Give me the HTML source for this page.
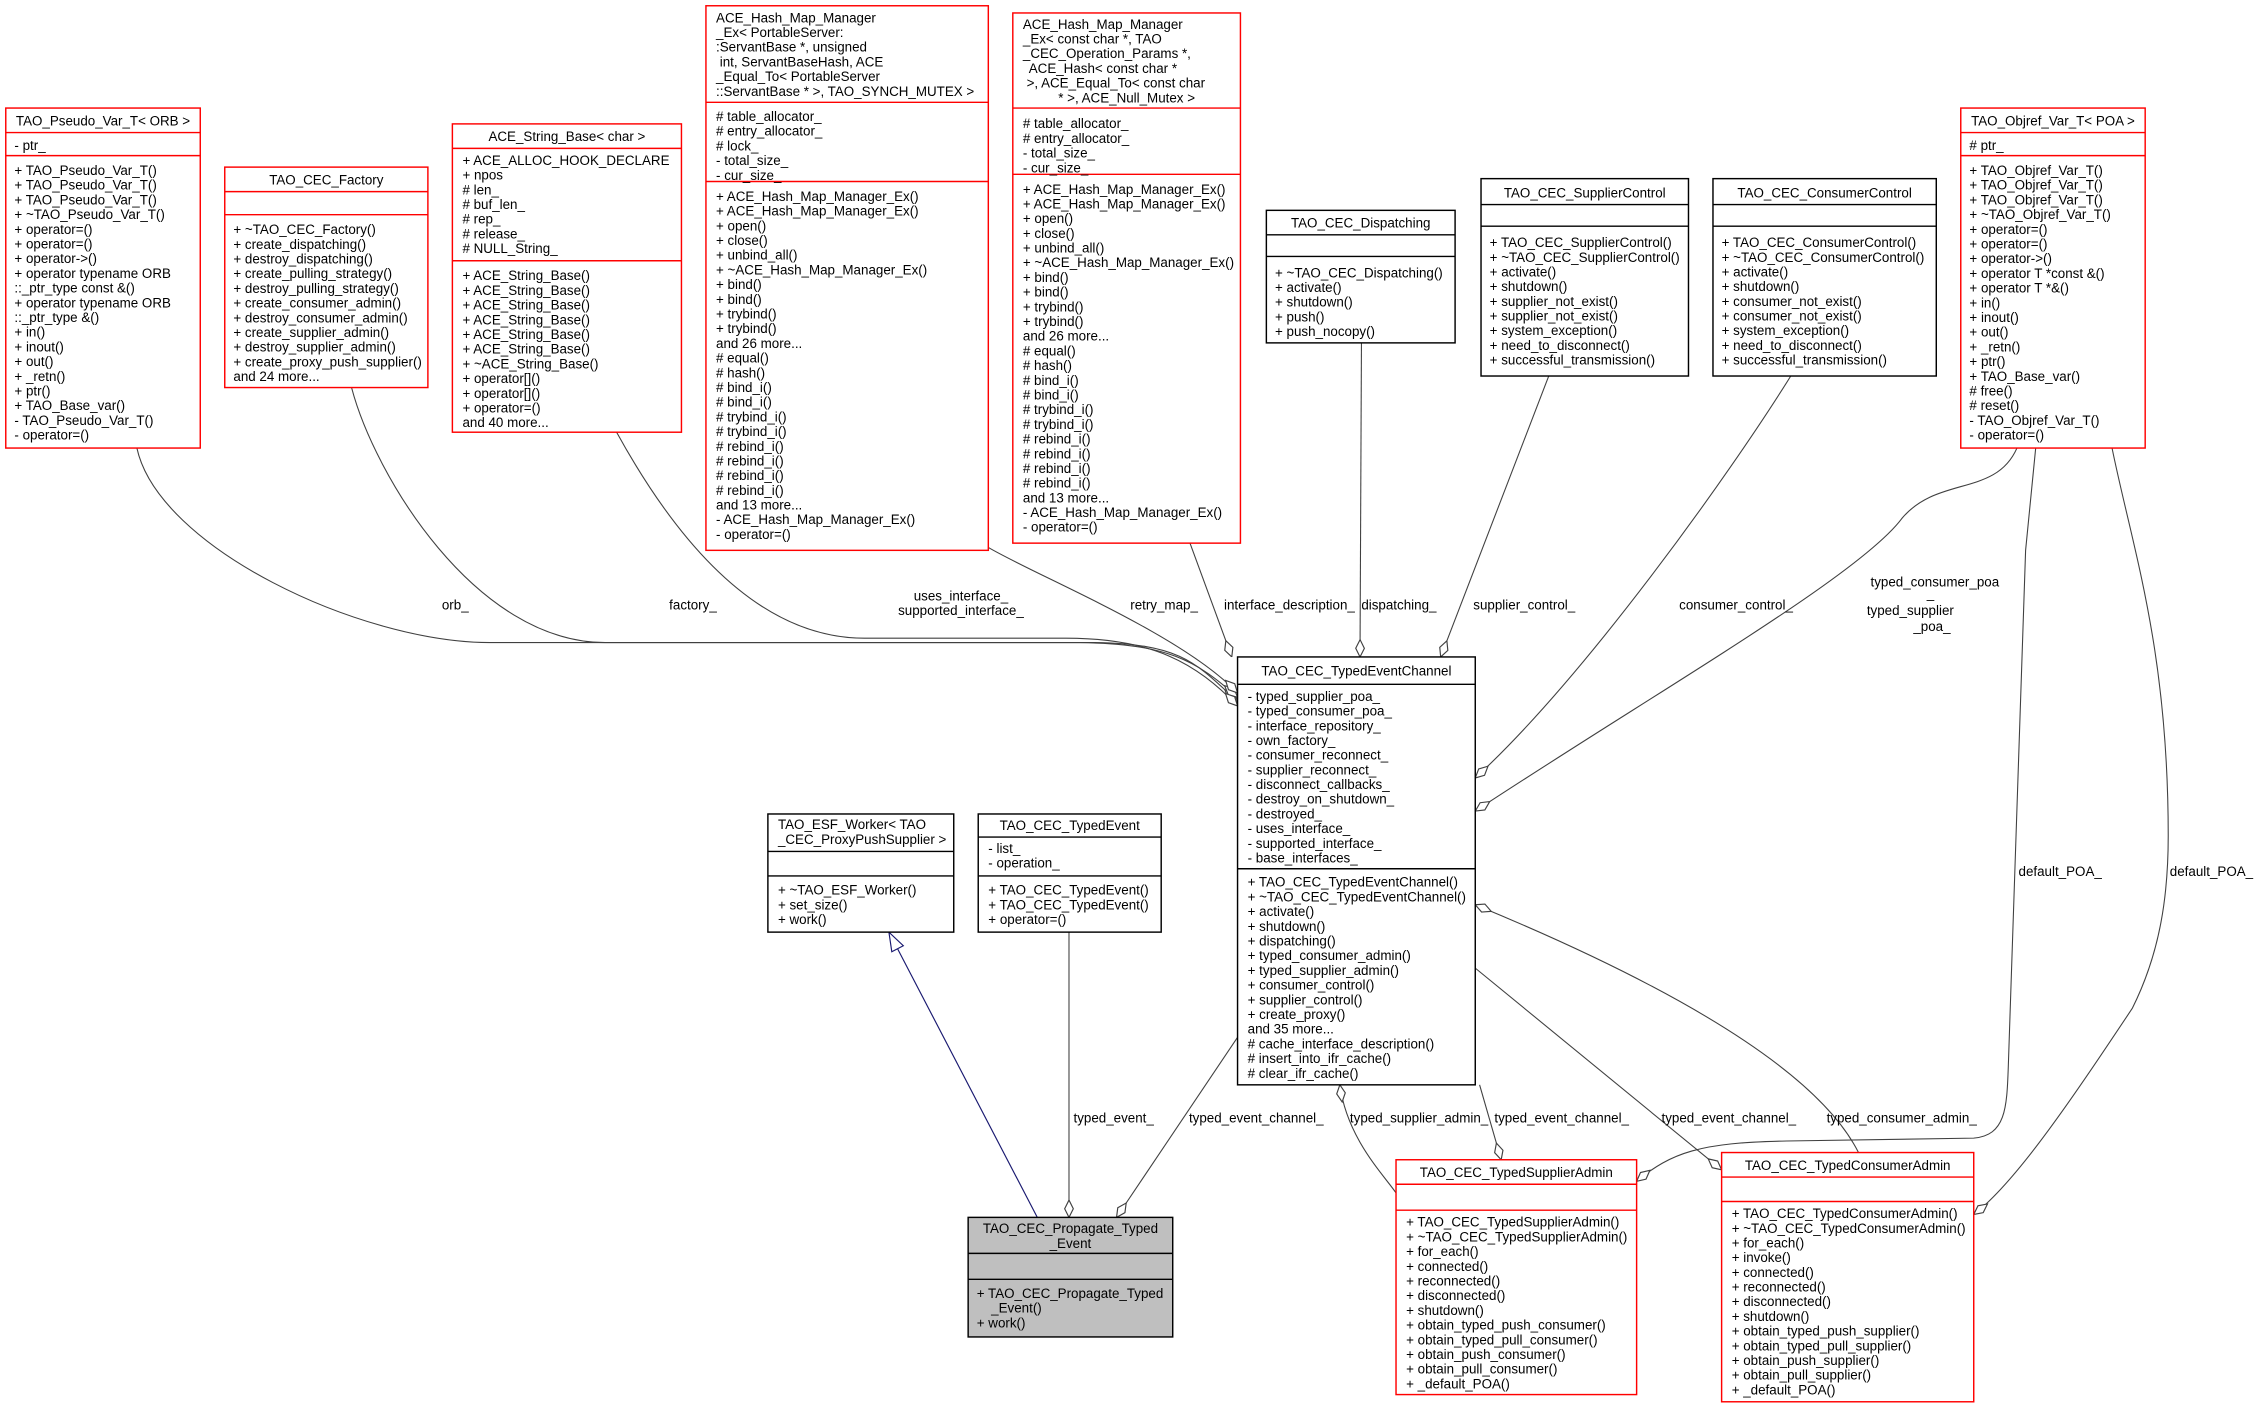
<!DOCTYPE html>
<html><head><meta charset="utf-8"><style>
html,body{margin:0;padding:0;background:#fff}
svg{display:block}
text{font-family:"Liberation Sans",sans-serif;font-size:9.3px;fill:#000}
.c{text-anchor:middle}
.r{fill:#fff;stroke:#ff0000;stroke-width:1}
.k{fill:#fff;stroke:#000;stroke-width:1}
.sr{stroke:#ff0000;stroke-width:1}
.sk{stroke:#000;stroke-width:1}
.e{fill:none;stroke:#404040;stroke-width:0.75;marker-start:url(#dia)}
</style></head><body>
<svg width="2259" height="1411" viewBox="0 0 1568 979.4" xmlns="http://www.w3.org/2000/svg">
<defs>
<marker id="dia" markerUnits="userSpaceOnUse" markerWidth="16" markerHeight="10" refX="0" refY="5" orient="auto" viewBox="0 0 16 10">
<path d="M0,5 L6,2 L12,5 L6,8 Z" fill="#fff" stroke="#404040" stroke-width="0.8"/></marker>
<marker id="tri" markerUnits="userSpaceOnUse" markerWidth="16" markerHeight="12" refX="0" refY="6" orient="auto" viewBox="0 0 16 12">
<path d="M0,6 L13,1.5 L13,10.5 Z" fill="#fff" stroke="#191970" stroke-width="0.8"/></marker>
</defs>

<!-- edges -->
<path class="e" d="M859,487 C830,460 820,447 760,446 L340,446 C250,446 110,380 95,311"/>
<path class="e" d="M859,484 C830,458 810,447 750,446 L420,446 C330,446 260,330 244,269"/>
<path class="e" d="M859,490 C830,460 800,443 740,443 L600,443 C510,443 450,340 428,300"/>
<path class="e" d="M859,481 C820,440 720,400 686,380"/>
<path class="e" d="M855,456 L826,377"/>
<path class="e" d="M944,456 L945,238"/>
<path class="e" d="M1000,456 L1075,261"/>
<path class="e" d="M1024,540 C1100,470 1200,330 1243,261"/>
<path class="e" d="M1024,563 C1150,480 1290,400 1320,360 C1345,330 1385,345 1400,311"/>
<path class="e" d="M1136,820 C1160,800 1180,793 1240,792 L1370,790 C1392,788 1393,770 1394,740 L1406,382 L1413,311"/>
<path class="e" d="M1370,843 C1400,820 1440,760 1480,700 C1500,660 1505,620 1505,580 C1505,450 1480,380 1466,311"/>
<path class="e" d="M775,845 L859,720"/>
<path class="e" d="M742,845 L742,647"/>
<path d="M617,647 L720,845" fill="none" stroke="#191970" stroke-width="0.8" marker-start="url(#tri)"/>
<path class="e" d="M930,753 C935,790 960,815 969,828"/>
<path class="e" d="M1042,805 L1027,753"/>
<path class="e" d="M1195,812 L1024,672"/>
<path class="e" d="M1024,628 C1150,680 1260,740 1290,800"/>

<!-- edge labels -->
<g class="c">
<text x="316" y="423">orb_</text>
<text x="481" y="423">factory_</text>
<text x="667" y="417">uses_interface_</text>
<text x="667" y="427">supported_interface_</text>
<text x="808" y="423">retry_map_</text>
<text x="895" y="423">interface_description_</text>
<text x="971" y="423">dispatching_</text>
<text x="1058" y="423">supplier_control_</text>
<text x="1205" y="423">consumer_control_</text>
<text x="1343" y="407">typed_consumer_poa</text>
<text x="1340" y="415">_</text>
<text x="1326" y="427">typed_supplier</text>
<text x="1341" y="438">_poa_</text>
<text x="1430" y="608">default_POA_</text>
<text x="1535" y="608">default_POA_</text>
<text x="773" y="779">typed_event_</text>
<text x="872" y="779">typed_event_channel_</text>
<text x="985" y="779">typed_supplier_admin_</text>
<text x="1084" y="779">typed_event_channel_</text>
<text x="1200" y="779">typed_event_channel_</text>
<text x="1320" y="779">typed_consumer_admin_</text>
</g>

<!-- TAO_Pseudo_Var_T -->
<rect class="r" x="4" y="75" width="135" height="236"/>
<line class="sr" x1="4" y1="92" x2="139" y2="92"/><line class="sr" x1="4" y1="108" x2="139" y2="108"/>
<text class="c" x="71.5" y="87">TAO_Pseudo_Var_T&lt; ORB &gt;</text>
<text x="10" y="104">- ptr_</text>
<text x="10" y="121.5"><tspan x="10">+ TAO_Pseudo_Var_T()</tspan><tspan x="10" dy="10.2">+ TAO_Pseudo_Var_T()</tspan><tspan x="10" dy="10.2">+ TAO_Pseudo_Var_T()</tspan><tspan x="10" dy="10.2">+ ~TAO_Pseudo_Var_T()</tspan><tspan x="10" dy="10.2">+ operator=()</tspan><tspan x="10" dy="10.2">+ operator=()</tspan><tspan x="10" dy="10.2">+ operator-&gt;()</tspan><tspan x="10" dy="10.2">+ operator typename ORB</tspan><tspan x="10" dy="10.2">::_ptr_type const &amp;()</tspan><tspan x="10" dy="10.2">+ operator typename ORB</tspan><tspan x="10" dy="10.2">::_ptr_type &amp;()</tspan><tspan x="10" dy="10.2">+ in()</tspan><tspan x="10" dy="10.2">+ inout()</tspan><tspan x="10" dy="10.2">+ out()</tspan><tspan x="10" dy="10.2">+ _retn()</tspan><tspan x="10" dy="10.2">+ ptr()</tspan><tspan x="10" dy="10.2">+ TAO_Base_var()</tspan><tspan x="10" dy="10.2">- TAO_Pseudo_Var_T()</tspan><tspan x="10" dy="10.2">- operator=()</tspan></text>

<!-- TAO_CEC_Factory -->
<rect class="r" x="156" y="116" width="141" height="153"/>
<line class="sr" x1="156" y1="133" x2="297" y2="133"/><line class="sr" x1="156" y1="149" x2="297" y2="149"/>
<text class="c" x="226.5" y="128">TAO_CEC_Factory</text>
<text x="162" y="162.5"><tspan x="162">+ ~TAO_CEC_Factory()</tspan><tspan x="162" dy="10.2">+ create_dispatching()</tspan><tspan x="162" dy="10.2">+ destroy_dispatching()</tspan><tspan x="162" dy="10.2">+ create_pulling_strategy()</tspan><tspan x="162" dy="10.2">+ destroy_pulling_strategy()</tspan><tspan x="162" dy="10.2">+ create_consumer_admin()</tspan><tspan x="162" dy="10.2">+ destroy_consumer_admin()</tspan><tspan x="162" dy="10.2">+ create_supplier_admin()</tspan><tspan x="162" dy="10.2">+ destroy_supplier_admin()</tspan><tspan x="162" dy="10.2">+ create_proxy_push_supplier()</tspan><tspan x="162" dy="10.2">and 24 more...</tspan></text>

<!-- ACE_String_Base -->
<rect class="r" x="314" y="86" width="159" height="214"/>
<line class="sr" x1="314" y1="103" x2="473" y2="103"/><line class="sr" x1="314" y1="181" x2="473" y2="181"/>
<text class="c" x="393.5" y="98">ACE_String_Base&lt; char &gt;</text>
<text x="321" y="114.5"><tspan x="321">+ ACE_ALLOC_HOOK_DECLARE</tspan><tspan x="321" dy="10.2">+ npos</tspan><tspan x="321" dy="10.2"># len_</tspan><tspan x="321" dy="10.2"># buf_len_</tspan><tspan x="321" dy="10.2"># rep_</tspan><tspan x="321" dy="10.2"># release_</tspan><tspan x="321" dy="10.2"># NULL_String_</tspan></text>
<text x="321" y="194.5"><tspan x="321">+ ACE_String_Base()</tspan><tspan x="321" dy="10.2">+ ACE_String_Base()</tspan><tspan x="321" dy="10.2">+ ACE_String_Base()</tspan><tspan x="321" dy="10.2">+ ACE_String_Base()</tspan><tspan x="321" dy="10.2">+ ACE_String_Base()</tspan><tspan x="321" dy="10.2">+ ACE_String_Base()</tspan><tspan x="321" dy="10.2">+ ~ACE_String_Base()</tspan><tspan x="321" dy="10.2">+ operator[]()</tspan><tspan x="321" dy="10.2">+ operator[]()</tspan><tspan x="321" dy="10.2">+ operator=()</tspan><tspan x="321" dy="10.2">and 40 more...</tspan></text>

<!-- ACE_Hash_Map_Manager 1 -->
<rect class="r" x="490" y="4" width="196" height="378"/>
<line class="sr" x1="490" y1="71" x2="686" y2="71"/><line class="sr" x1="490" y1="126" x2="686" y2="126"/>
<text x="497" y="15.5"><tspan x="497">ACE_Hash_Map_Manager</tspan><tspan x="497" dy="10.2">_Ex&lt; PortableServer:</tspan><tspan x="497" dy="10.2">:ServantBase *, unsigned</tspan><tspan x="497" dy="10.2"> int, ServantBaseHash, ACE</tspan><tspan x="497" dy="10.2">_Equal_To&lt; PortableServer</tspan><tspan x="497" dy="10.2">::ServantBase * &gt;, TAO_SYNCH_MUTEX &gt;</tspan></text>
<text x="497" y="84"><tspan x="497"># table_allocator_</tspan><tspan x="497" dy="10.2"># entry_allocator_</tspan><tspan x="497" dy="10.2"># lock_</tspan><tspan x="497" dy="10.2">- total_size_</tspan><tspan x="497" dy="10.2">- cur_size_</tspan></text>
<text x="497" y="139.5"><tspan x="497">+ ACE_Hash_Map_Manager_Ex()</tspan><tspan x="497" dy="10.2">+ ACE_Hash_Map_Manager_Ex()</tspan><tspan x="497" dy="10.2">+ open()</tspan><tspan x="497" dy="10.2">+ close()</tspan><tspan x="497" dy="10.2">+ unbind_all()</tspan><tspan x="497" dy="10.2">+ ~ACE_Hash_Map_Manager_Ex()</tspan><tspan x="497" dy="10.2">+ bind()</tspan><tspan x="497" dy="10.2">+ bind()</tspan><tspan x="497" dy="10.2">+ trybind()</tspan><tspan x="497" dy="10.2">+ trybind()</tspan><tspan x="497" dy="10.2">and 26 more...</tspan><tspan x="497" dy="10.2"># equal()</tspan><tspan x="497" dy="10.2"># hash()</tspan><tspan x="497" dy="10.2"># bind_i()</tspan><tspan x="497" dy="10.2"># bind_i()</tspan><tspan x="497" dy="10.2"># trybind_i()</tspan><tspan x="497" dy="10.2"># trybind_i()</tspan><tspan x="497" dy="10.2"># rebind_i()</tspan><tspan x="497" dy="10.2"># rebind_i()</tspan><tspan x="497" dy="10.2"># rebind_i()</tspan><tspan x="497" dy="10.2"># rebind_i()</tspan><tspan x="497" dy="10.2">and 13 more...</tspan><tspan x="497" dy="10.2">- ACE_Hash_Map_Manager_Ex()</tspan><tspan x="497" dy="10.2">- operator=()</tspan></text>

<!-- ACE_Hash_Map_Manager 2 -->
<rect class="r" x="703" y="9" width="158" height="368"/>
<line class="sr" x1="703" y1="75" x2="861" y2="75"/><line class="sr" x1="703" y1="121" x2="861" y2="121"/>
<text x="710" y="20"><tspan x="710">ACE_Hash_Map_Manager</tspan><tspan x="710" dy="10.2">_Ex&lt; const char *, TAO</tspan><tspan x="710" dy="10.2">_CEC_Operation_Params *,</tspan><tspan x="712" dy="10.2"> ACE_Hash&lt; const char *</tspan><tspan x="710" dy="10.2"> &gt;, ACE_Equal_To&lt; const char</tspan><tspan x="782" dy="10.2" text-anchor="middle">* &gt;, ACE_Null_Mutex &gt;</tspan></text>
<text x="710" y="89"><tspan x="710"># table_allocator_</tspan><tspan x="710" dy="10.2"># entry_allocator_</tspan><tspan x="710" dy="10.2">- total_size_</tspan><tspan x="710" dy="10.2">- cur_size_</tspan></text>
<text x="710" y="134.5"><tspan x="710">+ ACE_Hash_Map_Manager_Ex()</tspan><tspan x="710" dy="10.2">+ ACE_Hash_Map_Manager_Ex()</tspan><tspan x="710" dy="10.2">+ open()</tspan><tspan x="710" dy="10.2">+ close()</tspan><tspan x="710" dy="10.2">+ unbind_all()</tspan><tspan x="710" dy="10.2">+ ~ACE_Hash_Map_Manager_Ex()</tspan><tspan x="710" dy="10.2">+ bind()</tspan><tspan x="710" dy="10.2">+ bind()</tspan><tspan x="710" dy="10.2">+ trybind()</tspan><tspan x="710" dy="10.2">+ trybind()</tspan><tspan x="710" dy="10.2">and 26 more...</tspan><tspan x="710" dy="10.2"># equal()</tspan><tspan x="710" dy="10.2"># hash()</tspan><tspan x="710" dy="10.2"># bind_i()</tspan><tspan x="710" dy="10.2"># bind_i()</tspan><tspan x="710" dy="10.2"># trybind_i()</tspan><tspan x="710" dy="10.2"># trybind_i()</tspan><tspan x="710" dy="10.2"># rebind_i()</tspan><tspan x="710" dy="10.2"># rebind_i()</tspan><tspan x="710" dy="10.2"># rebind_i()</tspan><tspan x="710" dy="10.2"># rebind_i()</tspan><tspan x="710" dy="10.2">and 13 more...</tspan><tspan x="710" dy="10.2">- ACE_Hash_Map_Manager_Ex()</tspan><tspan x="710" dy="10.2">- operator=()</tspan></text>

<!-- TAO_CEC_Dispatching -->
<rect class="k" x="879" y="146" width="131" height="92"/>
<line class="sk" x1="879" y1="163" x2="1010" y2="163"/><line class="sk" x1="879" y1="178" x2="1010" y2="178"/>
<text class="c" x="944.5" y="158">TAO_CEC_Dispatching</text>
<text x="885" y="192.5"><tspan x="885">+ ~TAO_CEC_Dispatching()</tspan><tspan x="885" dy="10.2">+ activate()</tspan><tspan x="885" dy="10.2">+ shutdown()</tspan><tspan x="885" dy="10.2">+ push()</tspan><tspan x="885" dy="10.2">+ push_nocopy()</tspan></text>

<!-- TAO_CEC_SupplierControl -->
<rect class="k" x="1028" y="124" width="144" height="137"/>
<line class="sk" x1="1028" y1="142" x2="1172" y2="142"/><line class="sk" x1="1028" y1="157" x2="1172" y2="157"/>
<text class="c" x="1100" y="137">TAO_CEC_SupplierControl</text>
<text x="1034" y="171.5"><tspan x="1034">+ TAO_CEC_SupplierControl()</tspan><tspan x="1034" dy="10.2">+ ~TAO_CEC_SupplierControl()</tspan><tspan x="1034" dy="10.2">+ activate()</tspan><tspan x="1034" dy="10.2">+ shutdown()</tspan><tspan x="1034" dy="10.2">+ supplier_not_exist()</tspan><tspan x="1034" dy="10.2">+ supplier_not_exist()</tspan><tspan x="1034" dy="10.2">+ system_exception()</tspan><tspan x="1034" dy="10.2">+ need_to_disconnect()</tspan><tspan x="1034" dy="10.2">+ successful_transmission()</tspan></text>

<!-- TAO_CEC_ConsumerControl -->
<rect class="k" x="1189" y="124" width="155" height="137"/>
<line class="sk" x1="1189" y1="142" x2="1344" y2="142"/><line class="sk" x1="1189" y1="157" x2="1344" y2="157"/>
<text class="c" x="1266.5" y="137">TAO_CEC_ConsumerControl</text>
<text x="1195" y="171.5"><tspan x="1195">+ TAO_CEC_ConsumerControl()</tspan><tspan x="1195" dy="10.2">+ ~TAO_CEC_ConsumerControl()</tspan><tspan x="1195" dy="10.2">+ activate()</tspan><tspan x="1195" dy="10.2">+ shutdown()</tspan><tspan x="1195" dy="10.2">+ consumer_not_exist()</tspan><tspan x="1195" dy="10.2">+ consumer_not_exist()</tspan><tspan x="1195" dy="10.2">+ system_exception()</tspan><tspan x="1195" dy="10.2">+ need_to_disconnect()</tspan><tspan x="1195" dy="10.2">+ successful_transmission()</tspan></text>

<!-- TAO_Objref_Var_T -->
<rect class="r" x="1361" y="75" width="128" height="236"/>
<line class="sr" x1="1361" y1="92" x2="1489" y2="92"/><line class="sr" x1="1361" y1="108" x2="1489" y2="108"/>
<text class="c" x="1425" y="87">TAO_Objref_Var_T&lt; POA &gt;</text>
<text x="1367" y="104"># ptr_</text>
<text x="1367" y="121.5"><tspan x="1367">+ TAO_Objref_Var_T()</tspan><tspan x="1367" dy="10.2">+ TAO_Objref_Var_T()</tspan><tspan x="1367" dy="10.2">+ TAO_Objref_Var_T()</tspan><tspan x="1367" dy="10.2">+ ~TAO_Objref_Var_T()</tspan><tspan x="1367" dy="10.2">+ operator=()</tspan><tspan x="1367" dy="10.2">+ operator=()</tspan><tspan x="1367" dy="10.2">+ operator-&gt;()</tspan><tspan x="1367" dy="10.2">+ operator T *const &amp;()</tspan><tspan x="1367" dy="10.2">+ operator T *&amp;()</tspan><tspan x="1367" dy="10.2">+ in()</tspan><tspan x="1367" dy="10.2">+ inout()</tspan><tspan x="1367" dy="10.2">+ out()</tspan><tspan x="1367" dy="10.2">+ _retn()</tspan><tspan x="1367" dy="10.2">+ ptr()</tspan><tspan x="1367" dy="10.2">+ TAO_Base_var()</tspan><tspan x="1367" dy="10.2"># free()</tspan><tspan x="1367" dy="10.2"># reset()</tspan><tspan x="1367" dy="10.2">- TAO_Objref_Var_T()</tspan><tspan x="1367" dy="10.2">- operator=()</tspan></text>

<!-- TAO_CEC_TypedEventChannel -->
<rect class="k" x="859" y="456" width="165" height="297"/>
<line class="sk" x1="859" y1="475" x2="1024" y2="475"/><line class="sk" x1="859" y1="603" x2="1024" y2="603"/>
<text class="c" x="941.5" y="469">TAO_CEC_TypedEventChannel</text>
<text x="866" y="486.5"><tspan x="866">- typed_supplier_poa_</tspan><tspan x="866" dy="10.2">- typed_consumer_poa_</tspan><tspan x="866" dy="10.2">- interface_repository_</tspan><tspan x="866" dy="10.2">- own_factory_</tspan><tspan x="866" dy="10.2">- consumer_reconnect_</tspan><tspan x="866" dy="10.2">- supplier_reconnect_</tspan><tspan x="866" dy="10.2">- disconnect_callbacks_</tspan><tspan x="866" dy="10.2">- destroy_on_shutdown_</tspan><tspan x="866" dy="10.2">- destroyed_</tspan><tspan x="866" dy="10.2">- uses_interface_</tspan><tspan x="866" dy="10.2">- supported_interface_</tspan><tspan x="866" dy="10.2">- base_interfaces_</tspan></text>
<text x="866" y="615.5"><tspan x="866">+ TAO_CEC_TypedEventChannel()</tspan><tspan x="866" dy="10.2">+ ~TAO_CEC_TypedEventChannel()</tspan><tspan x="866" dy="10.2">+ activate()</tspan><tspan x="866" dy="10.2">+ shutdown()</tspan><tspan x="866" dy="10.2">+ dispatching()</tspan><tspan x="866" dy="10.2">+ typed_consumer_admin()</tspan><tspan x="866" dy="10.2">+ typed_supplier_admin()</tspan><tspan x="866" dy="10.2">+ consumer_control()</tspan><tspan x="866" dy="10.2">+ supplier_control()</tspan><tspan x="866" dy="10.2">+ create_proxy()</tspan><tspan x="866" dy="10.2">and 35 more...</tspan><tspan x="866" dy="10.2"># cache_interface_description()</tspan><tspan x="866" dy="10.2"># insert_into_ifr_cache()</tspan><tspan x="866" dy="10.2"># clear_ifr_cache()</tspan></text>

<!-- TAO_ESF_Worker -->
<rect class="k" x="533" y="565" width="129" height="82"/>
<line class="sk" x1="533" y1="591" x2="662" y2="591"/><line class="sk" x1="533" y1="608" x2="662" y2="608"/>
<text x="540" y="575.5"><tspan x="540">TAO_ESF_Worker&lt; TAO</tspan><tspan x="540" dy="10.2">_CEC_ProxyPushSupplier &gt;</tspan></text>
<text x="540" y="621"><tspan x="540">+ ~TAO_ESF_Worker()</tspan><tspan x="540" dy="10.2">+ set_size()</tspan><tspan x="540" dy="10.2">+ work()</tspan></text>

<!-- TAO_CEC_TypedEvent -->
<rect class="k" x="679" y="565" width="127" height="82"/>
<line class="sk" x1="679" y1="581" x2="806" y2="581"/><line class="sk" x1="679" y1="608" x2="806" y2="608"/>
<text class="c" x="742.5" y="576">TAO_CEC_TypedEvent</text>
<text x="686" y="592"><tspan x="686">- list_</tspan><tspan x="686" dy="10.2">- operation_</tspan></text>
<text x="686" y="621"><tspan x="686">+ TAO_CEC_TypedEvent()</tspan><tspan x="686" dy="10.2">+ TAO_CEC_TypedEvent()</tspan><tspan x="686" dy="10.2">+ operator=()</tspan></text>

<!-- TAO_CEC_Propagate_Typed_Event -->
<rect x="672" y="845" width="142" height="83" fill="#bfbfbf" stroke="#000" stroke-width="1"/>
<line class="sk" x1="672" y1="870" x2="814" y2="870"/><line class="sk" x1="672" y1="888" x2="814" y2="888"/>
<text class="c" x="743" y="856"><tspan x="743">TAO_CEC_Propagate_Typed</tspan><tspan x="743" dy="10.2">_Event</tspan></text>
<text x="678" y="901"><tspan x="678">+ TAO_CEC_Propagate_Typed</tspan><tspan x="688" dy="10.2">_Event()</tspan><tspan x="678" dy="10.2">+ work()</tspan></text>

<!-- TAO_CEC_TypedSupplierAdmin -->
<rect class="r" x="969" y="805" width="167" height="163"/>
<line class="sr" x1="969" y1="822" x2="1136" y2="822"/><line class="sr" x1="969" y1="840" x2="1136" y2="840"/>
<text class="c" x="1052.5" y="817">TAO_CEC_TypedSupplierAdmin</text>
<text x="976" y="851.5"><tspan x="976">+ TAO_CEC_TypedSupplierAdmin()</tspan><tspan x="976" dy="10.2">+ ~TAO_CEC_TypedSupplierAdmin()</tspan><tspan x="976" dy="10.2">+ for_each()</tspan><tspan x="976" dy="10.2">+ connected()</tspan><tspan x="976" dy="10.2">+ reconnected()</tspan><tspan x="976" dy="10.2">+ disconnected()</tspan><tspan x="976" dy="10.2">+ shutdown()</tspan><tspan x="976" dy="10.2">+ obtain_typed_push_consumer()</tspan><tspan x="976" dy="10.2">+ obtain_typed_pull_consumer()</tspan><tspan x="976" dy="10.2">+ obtain_push_consumer()</tspan><tspan x="976" dy="10.2">+ obtain_pull_consumer()</tspan><tspan x="976" dy="10.2">+ _default_POA()</tspan></text>

<!-- TAO_CEC_TypedConsumerAdmin -->
<rect class="r" x="1195" y="800" width="175" height="173"/>
<line class="sr" x1="1195" y1="817" x2="1370" y2="817"/><line class="sr" x1="1195" y1="834" x2="1370" y2="834"/>
<text class="c" x="1282.5" y="812">TAO_CEC_TypedConsumerAdmin</text>
<text x="1202" y="845.5"><tspan x="1202">+ TAO_CEC_TypedConsumerAdmin()</tspan><tspan x="1202" dy="10.2">+ ~TAO_CEC_TypedConsumerAdmin()</tspan><tspan x="1202" dy="10.2">+ for_each()</tspan><tspan x="1202" dy="10.2">+ invoke()</tspan><tspan x="1202" dy="10.2">+ connected()</tspan><tspan x="1202" dy="10.2">+ reconnected()</tspan><tspan x="1202" dy="10.2">+ disconnected()</tspan><tspan x="1202" dy="10.2">+ shutdown()</tspan><tspan x="1202" dy="10.2">+ obtain_typed_push_supplier()</tspan><tspan x="1202" dy="10.2">+ obtain_typed_pull_supplier()</tspan><tspan x="1202" dy="10.2">+ obtain_push_supplier()</tspan><tspan x="1202" dy="10.2">+ obtain_pull_supplier()</tspan><tspan x="1202" dy="10.2">+ _default_POA()</tspan></text>
</svg>
</body></html>
